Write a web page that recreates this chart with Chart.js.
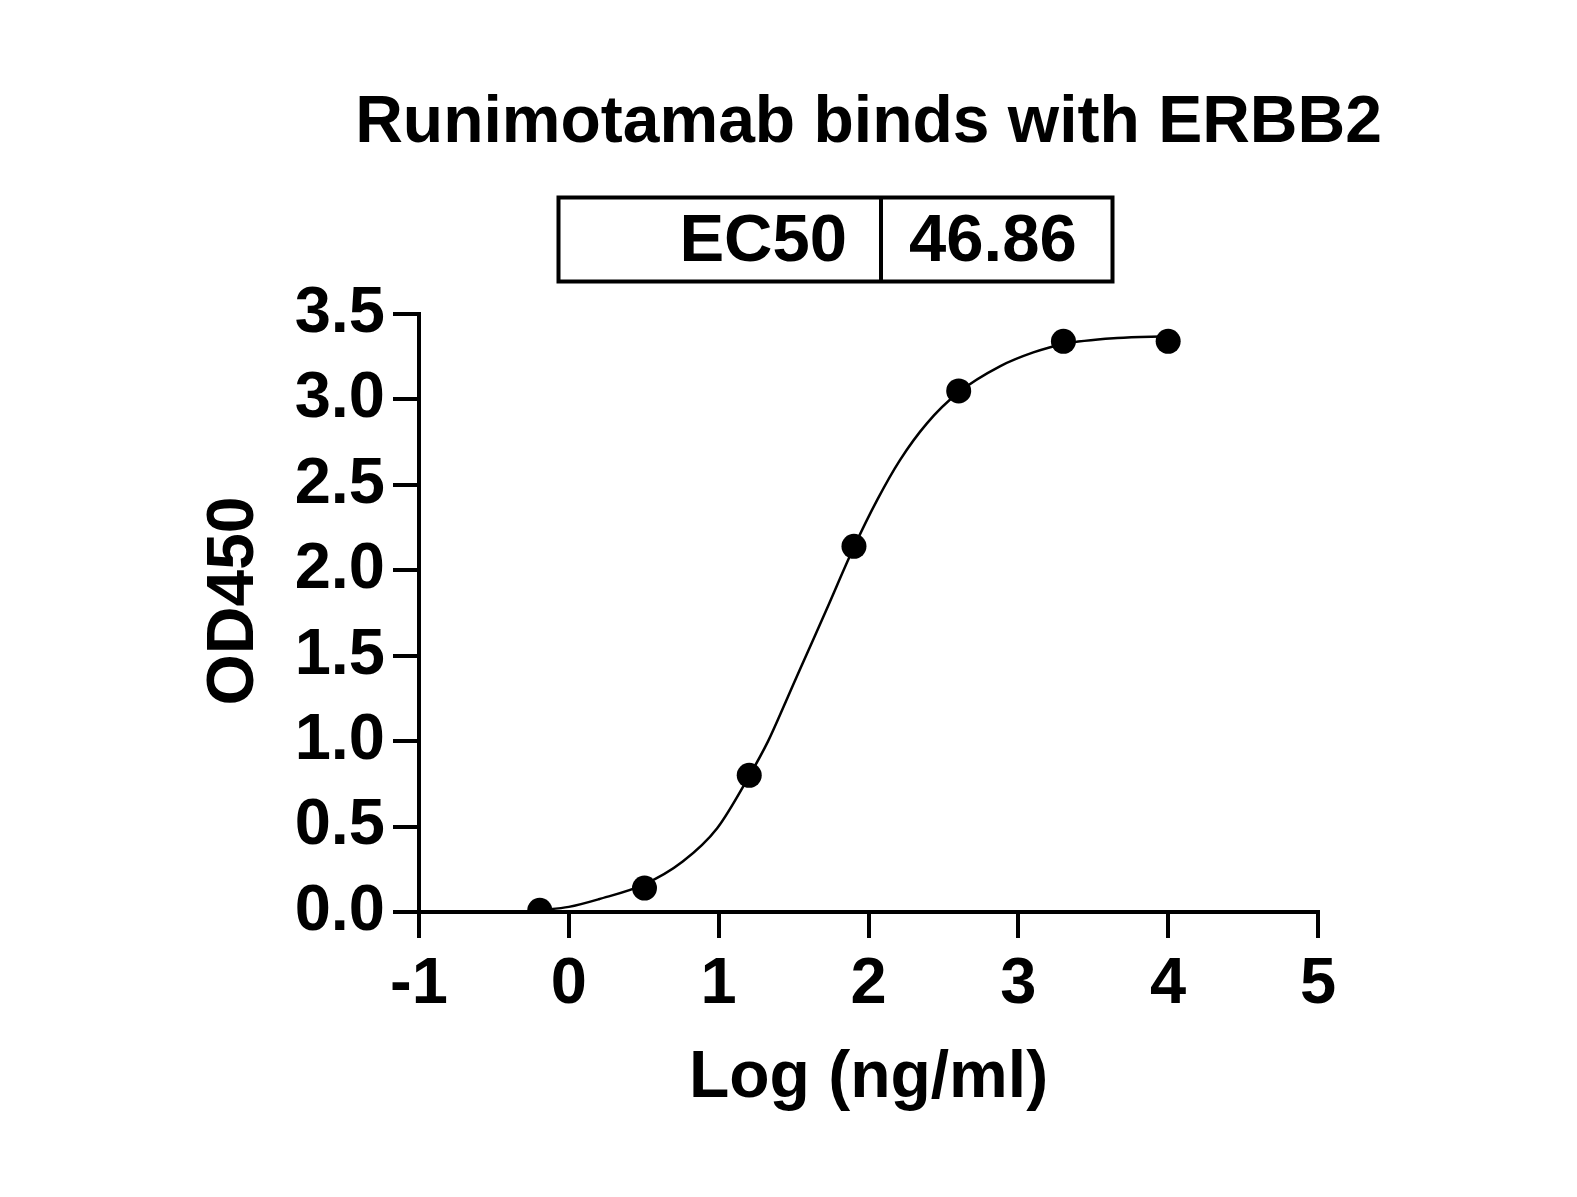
<!DOCTYPE html>
<html><head><meta charset="utf-8">
<script src="https://cdn.jsdelivr.net/npm/chart.js@4.4.1/dist/chart.umd.min.js"></script>
<style>html,body{margin:0;padding:0;background:#fff;}canvas{display:block;}</style>
</head><body>
<canvas id="c" width="1577" height="1197"></canvas>
<script>
// ---- data ----
const chartTitle = 'Runimotamab binds with ERBB2';
const xAxisTitle = 'Log (ng/ml)';
const yAxisTitle = 'OD450';
const ec50Label = 'EC50';
const ec50Value = '46.86';
const logConc = [-0.194, 0.505, 1.204, 1.903, 2.602, 3.301, 4.0];
const od450 = [0.01, 0.14, 0.80, 2.14, 3.05, 3.34, 3.34];
const fitX = [-0.19, 0.0, 0.2, 0.5, 0.76, 0.99, 1.2, 1.33, 1.45, 1.54, 1.72, 1.9, 2.06, 2.21, 2.39, 2.6, 2.88, 3.1, 3.3, 3.66, 4.0];
const fitY = [0.01, 0.03, 0.075, 0.16, 0.295, 0.49, 0.79, 1.0, 1.235, 1.415, 1.77, 2.13, 2.415, 2.645, 2.86, 3.04, 3.195, 3.275, 3.325, 3.36, 3.37];
const xTickLabels = ['-1', '0', '1', '2', '3', '4', '5'];
const yTickLabels = ['0.0', '0.5', '1.0', '1.5', '2.0', '2.5', '3.0', '3.5'];

const FONT = "'Liberation Sans', Arial, sans-serif";

const bgPlugin = {
  id: 'bg',
  beforeDraw(chart) {
    const ctx = chart.ctx;
    ctx.save();
    ctx.fillStyle = '#fff';
    ctx.fillRect(0, 0, chart.width, chart.height);
    ctx.restore();
  }
};

// nudge the y-axis title slightly upward, as in the original figure
const yTitleShift = {
  id: 'yTitleShift',
  afterLayout(chart) {
    const s = chart.scales.y;
    if (!s || s._shiftPatched) return;
    const orig = Object.getPrototypeOf(s).drawTitle;
    s.drawTitle = function () {
      const ctx = this.ctx;
      ctx.save();
      ctx.translate(0, -12);
      orig.call(this);
      ctx.restore();
    };
    s._shiftPatched = true;
  }
};

const headerPlugin = {
  id: 'header',
  afterDraw(chart) {
    const ctx = chart.ctx;
    const ca = chart.chartArea;
    ctx.save();
    ctx.fillStyle = '#000';
    ctx.textBaseline = 'alphabetic';
    ctx.font = "bold 66px " + FONT;
    ctx.textAlign = 'center';
    ctx.fillText(chartTitle, (ca.left + ca.right) / 2, 142);
    // EC50 box
    ctx.strokeStyle = '#000';
    ctx.lineWidth = 4;
    ctx.strokeRect(558.5, 197.5, 554, 84);
    ctx.beginPath();
    ctx.moveTo(881, 197.5);
    ctx.lineTo(881, 281.5);
    ctx.stroke();
    ctx.font = "bold 67px " + FONT;
    ctx.textAlign = 'right';
    ctx.fillText(ec50Label, 847, 261);
    ctx.textAlign = 'left';
    ctx.fillText(ec50Value, 909, 261);
    ctx.restore();
  }
};

new Chart(document.getElementById('c'), {
  type: 'scatter',
  data: {
    datasets: [
      {
        type: 'scatter',
        label: 'OD450',
        data: logConc.map((x, i) => ({x: x, y: od450[i]})),
        pointRadius: 12.5,
        pointBackgroundColor: '#000',
        pointBorderColor: '#000',
        pointBorderWidth: 0,
        order: 0
      },
      {
        type: 'line',
        label: 'Fit',
        data: fitX.map((x, i) => ({x: x, y: fitY[i]})),
        showLine: true,
        borderColor: '#000',
        borderWidth: 2.5,
        pointRadius: 0,
        fill: false,
        cubicInterpolationMode: 'monotone',
        order: 1
      }
    ]
  },
  options: {
    responsive: false,
    animation: false,
    devicePixelRatio: 1,
    layout: { padding: { left: 195, right: 259, top: 314, bottom: 79 } },
    plugins: {
      legend: { display: false },
      tooltip: { enabled: false },
      title: { display: false }
    },
    scales: {
      x: {
        type: 'linear',
        position: 'bottom',
        min: -1, max: 5,
        afterFit(s) { s.height = 206; },
        ticks: {
          stepSize: 1, autoSkip: false, maxRotation: 0, padding: 8,
          color: '#000',
          font: { family: FONT, size: 65, weight: 'bold' },
          callback: (v, i) => xTickLabels[i]
        },
        grid: { display: true, drawOnChartArea: false, drawTicks: true, tickLength: 26, lineWidth: 4, color: '#000' },
        border: { display: true, width: 4, color: '#000' },
        title: { display: true, text: xAxisTitle, color: '#000', padding: 0, font: { family: FONT, size: 66, weight: 'bold' } }
      },
      y: {
        type: 'linear',
        position: 'left',
        min: 0, max: 3.5,
        afterFit(s) { s.width = 224; },
        ticks: {
          stepSize: 0.5, autoSkip: false, padding: 8,
          color: '#000',
          font: { family: FONT, size: 65, weight: 'bold' },
          callback: (v, i) => yTickLabels[i]
        },
        grid: { display: true, drawOnChartArea: false, drawTicks: true, tickLength: 26, lineWidth: 4, color: '#000' },
        border: { display: true, width: 4, color: '#000' },
        title: { display: true, text: yAxisTitle, color: '#000', padding: 0, font: { family: FONT, size: 66, weight: 'bold' } }
      }
    }
  },
  plugins: [bgPlugin, yTitleShift, headerPlugin]
});
</script>
</body></html>
